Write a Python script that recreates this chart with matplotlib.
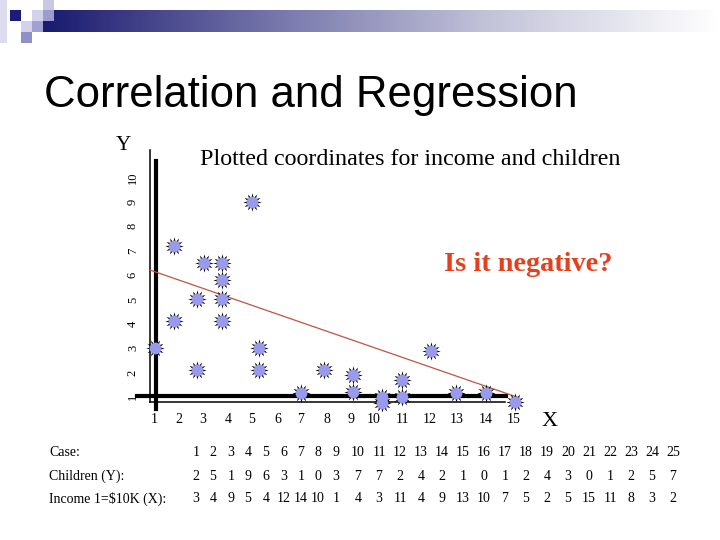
import matplotlib
matplotlib.use("Agg")
import matplotlib.pyplot as plt
import numpy as np
from matplotlib.colors import LinearSegmentedColormap
from matplotlib.patches import Rectangle

# table data
cases = list(range(1, 26))
children = [2, 5, 1, 9, 6, 3, 1, 0, 3, 7, 7, 2, 4, 2, 1, 0, 1, 2, 4, 3, 0, 1, 2, 5, 7]
income = [3, 4, 9, 5, 4, 12, 14, 10, 1, 4, 3, 11, 4, 9, 13, 10, 7, 5, 2, 5, 15, 11, 8, 3, 2]

# plotted points as drawn on the slide
plot_x = [1.05, 1.8, 1.8, 2.75, 2.75, 3.05, 3.75, 3.75, 3.75, 3.75, 5.0, 5.25, 5.25,
          7.0, 7.9, 9.1, 9.1, 10.3, 10.3, 11.0, 11.0, 12.05, 12.95, 14.0, 15.05]
plot_y = [3.0, 7.2, 4.1, 5.0, 2.1, 6.5, 6.5, 5.8, 5.0, 4.1, 9.0, 3.0, 2.1,
          1.15, 2.1, 1.9, 1.2, 1.0, 0.75, 1.7, 1.0, 2.9, 1.15, 1.15, 0.8]

# fitted line end points
reg_x = [0.85, 15.1]
reg_y = [6.2, 1.0]

x_ticks = list(range(1, 16))
y_ticks = list(range(1, 11))

# the hand drawn x axis is not evenly spaced
tick_px = [129, 154, 179, 203, 228, 252, 278, 301, 327, 351, 374, 402, 430, 457, 486, 514, 542]
tick_val = list(range(0, 17))

def fwd(v):
    return np.interp(v, tick_val, tick_px)

def inv(p):
    return np.interp(p, tick_px, tick_val)

# table column positions (pixels)
col_px = [196, 213, 231, 248, 266, 284, 301, 318, 336, 358, 379, 400, 421, 442, 463,
          484, 505, 526, 547, 568, 589, 610, 631, 652, 673]

fig = plt.figure(figsize=(7.2, 5.4), dpi=100)

# background layer in pixel coords
bg = fig.add_axes([0, 0, 1, 1])
bg.set_xlim(0, 720)
bg.set_ylim(540, 0)
bg.axis("off")

cmap = LinearSegmentedColormap.from_list("bar", ["#1a1a70", "#7474aa", "#c4c4da", "#ffffff"])
grad = np.linspace(0, 1, 300).reshape(1, -1)
bg.imshow(grad, cmap=cmap, extent=(43, 720, 32, 10), aspect="auto")

squares = [
    (0, 0, 7, 43, "#dcdcee"),
    (10, 10, 11, 11, "#1c1c78"),
    (21, 21, 11, 11, "#d2d2ea"),
    (32, 10, 11, 11, "#d2d2ea"),
    (43, 0, 11, 10, "#c8c8e4"),
    (43, 10, 11, 11, "#9c9cd0"),
    (32, 21, 11, 11, "#a0a0d4"),
    (21, 32, 11, 11, "#9090c8"),
]
for sx, sy, sw, sh, c in squares:
    bg.add_patch(Rectangle((sx, sy), sw, sh, color=c, lw=0))

bg.text(44, 107, "Correlation and Regression", fontsize=31.5,
        family="Liberation Sans", va="baseline", ha="left")

bg.text(200, 165, "Plotted coordinates for income and children", fontsize=17.25,
        family="Liberation Serif", va="baseline", ha="left")
bg.text(444, 271, "Is it negative?", fontsize=20.3, fontweight="bold",
        family="Liberation Serif", color="#e3401e", va="baseline", ha="left")
bg.text(123, 146, "Y", fontsize=15, family="Liberation Serif", ha="center", va="center")
bg.text(550, 421, "X", fontsize=16, family="Liberation Serif", ha="center", va="center")

# table under the chart
row_y = [452, 476, 499]
row_names = ["Case:", "Children (Y):", "Income 1=$10K (X):"]
for name, ry, vals in zip(row_names, row_y, [cases, children, income]):
    bg.text(49, ry, name, fontsize=10, family="Liberation Serif", va="center")
    for cx, v in zip(col_px, vals):
        bg.text(cx, ry, str(v), fontsize=10, family="Liberation Serif",
                ha="center", va="center")

# chart axes, a bit wider than the drawn frame so the last tick shows
ax = fig.add_axes([150 / 720, (540 - 402) / 540, 372 / 720, 252 / 540])
ax.patch.set_alpha(0)
ax.set_xscale("function", functions=(fwd, inv))
ax.set_xticks(x_ticks)
ax.set_xticklabels([str(t) for t in x_ticks], family="Liberation Serif", fontsize=10)
ax.set_yticks(y_ticks)
ax.set_yticklabels([str(t) for t in y_ticks], family="Liberation Serif", fontsize=9,
                   rotation=90, va="center")
ax.set_xlim(inv(150), inv(522))
ax.set_ylim(1 - 5 / 24.4, 1 + 247 / 24.4)
for s in ["top", "right"]:
    ax.spines[s].set_visible(False)
for s in ["left", "bottom"]:
    ax.spines[s].set_linewidth(1.1)
ax.spines["bottom"].set_bounds(inv(150), inv(505))
ax.xaxis.set_minor_locator(plt.NullLocator())
ax.tick_params(axis="both", length=0)
ax.tick_params(axis="x", pad=8)
ax.tick_params(axis="y", pad=8)

# thick hand drawn axes
ax.plot([inv(156), inv(156)], [0.51, 10.67], color="black", lw=3, clip_on=False)
ax.plot([inv(137), inv(506)], [1.04, 1.04], color="black", lw=3, clip_on=False)

ax.plot(reg_x, reg_y, color="#c0543e", lw=0.9, clip_on=False, zorder=3)

ax.scatter(plot_x, plot_y, s=175, marker=(12, 1, 0), color="black", lw=0,
           clip_on=False, zorder=4)
ax.scatter(plot_x, plot_y, s=72, marker="o", color="#9a9aec", lw=0,
           clip_on=False, zorder=5)

fig.savefig("out.png", dpi=100)
